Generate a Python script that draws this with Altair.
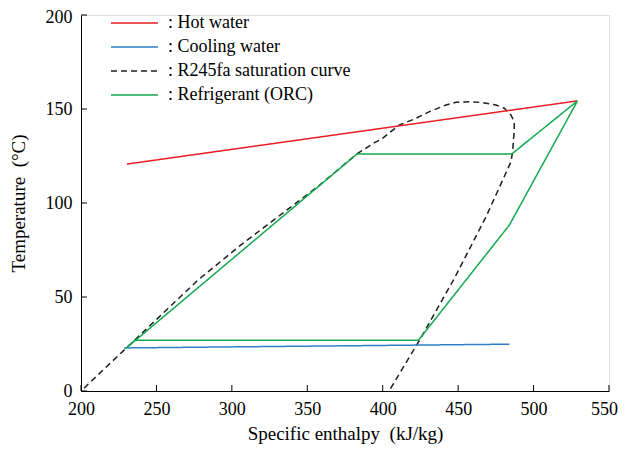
import altair as alt
import pandas as pd

# ---- data ----
series = ["Hot water", "Cooling water", "R245fa saturation curve", "Refrigerant (ORC)"]
colors = ["#ed1c24", "#2e7fc8", "#1e1e1e", "#14a84f"]
dashes = [[1, 0], [1, 0], [6, 4], [1, 0]]

hot_h = [230.4, 528.9]
hot_T = [120.7, 154.3]

cool_h = [228.5, 484.0]
cool_T = [22.9, 24.9]

orc_h = [229.8, 382.9, 485.4, 529.1, 483.9, 423.7, 235.7, 229.8]
orc_T = [22.7, 126.0, 126.0, 154.3, 88.2, 27.0, 27.0, 22.7]

sat_h = [202.0, 229.8, 277.4, 305.2, 358.2, 382.7, 394.6, 399.0, 411.1, 421.9,
         431.0, 442.0, 448.6, 457.4, 466.2, 475.1, 480.6, 485.0, 487.2, 487.2,
         486.1, 485.0, 468.5, 447.5, 424.4, 404.5]
sat_T = [1.5, 22.7, 58.9, 77.2, 109.5, 126.0, 132.1, 133.9, 141.5, 145.0,
         148.6, 152.1, 153.6, 153.9, 153.4, 152.1, 150.4, 146.8, 143.2, 138.8,
         127.3, 121.9, 92.7, 59.9, 27.0, 0.4]

x_ticks = [200, 250, 300, 350, 400, 450, 500, 550]
y_ticks = [0, 50, 100, 150, 200]

W, H = 528, 376
FONT = "Liberation Serif, Times New Roman, Times, serif"

rows = []
for name, hs, ts in [("R245fa saturation curve", sat_h, sat_T),
                     ("Hot water", hot_h, hot_T),
                     ("Cooling water", cool_h, cool_T),
                     ("Refrigerant (ORC)", orc_h, orc_T)]:
    for i, (h, t) in enumerate(zip(hs, ts)):
        rows.append({"series": name, "h": h, "T": t, "idx": i})
df = pd.DataFrame(rows)

xscale = alt.Scale(domain=[200, 550], nice=False, zero=False)
yscale = alt.Scale(domain=[0, 200], nice=False)

xaxis = alt.Axis(values=x_ticks, grid=False, ticks=False, tickSize=0, labelPadding=9,
                 labelFlush=False, labelFontSize=18, labelFont=FONT, labelColor="black",
                 labelOffset={"condition": {"test": "datum.value == 550", "value": -5}, "value": 0},
                 domainColor="black", domainWidth=1,
                 title="Specific enthalpy\u00a0 (kJ/kg)", titleFont=FONT, titleFontSize=19,
                 titleFontWeight="normal", titleColor="black", titlePadding=6)
yaxis = alt.Axis(values=y_ticks, grid=False, ticks=False, tickSize=0, labelPadding=9,
                 labelFlush=False, labelFontSize=18, labelFont=FONT, labelColor="black",
                 labelOffset={"condition": {"test": "datum.value == 200", "value": 2}, "value": 0},
                 domainColor="black", domainWidth=1,
                 title="Temperature\u00a0 (°C)", titleFont=FONT, titleFontSize=19,
                 titleFontWeight="normal", titleColor="black", titlePadding=17)

legend = alt.Legend(title=None, orient="none", legendX=29, legendY=-2,
                    symbolType="stroke", symbolSize=2209, symbolStrokeWidth=1.5,
                    labelFont=FONT, labelFontSize=18, labelColor="black", labelLimit=400,
                    labelExpr="': ' + datum.label", labelOffset=9,
                    clipHeight=20, rowPadding=4, padding=0)

lines = alt.Chart(df).mark_line(strokeWidth=1.5, interpolate="linear").encode(
    x=alt.X("h:Q", scale=xscale, axis=xaxis),
    y=alt.Y("T:Q", scale=yscale, axis=yaxis),
    color=alt.Color("series:N", scale=alt.Scale(domain=series, range=colors), legend=legend),
    strokeDash=alt.StrokeDash("series:N", scale=alt.Scale(domain=series, range=dashes), legend=legend),
    order=alt.Order("idx:Q"),
)

xt = alt.Chart(pd.DataFrame({"v": x_ticks})).mark_rule(color="black", strokeWidth=1).encode(
    x=alt.X("v:Q", scale=xscale),
    y=alt.value(H - 6), y2=alt.value(H),
)
yt = alt.Chart(pd.DataFrame({"v": y_ticks})).mark_rule(color="black", strokeWidth=1).encode(
    y=alt.Y("v:Q", scale=yscale),
    x=alt.value(0), x2=alt.value(6),
)

chart = alt.layer(lines, xt, yt).properties(
    width=W, height=H,
    autosize=alt.AutoSizeParams(type="none"),
    padding={"left": 73, "top": 7, "right": 9, "bottom": 53},
).configure_view(stroke=None).configure(font=FONT, background="white")

chart.save("out.html", embed_options={"renderer": "svg", "actions": False})
